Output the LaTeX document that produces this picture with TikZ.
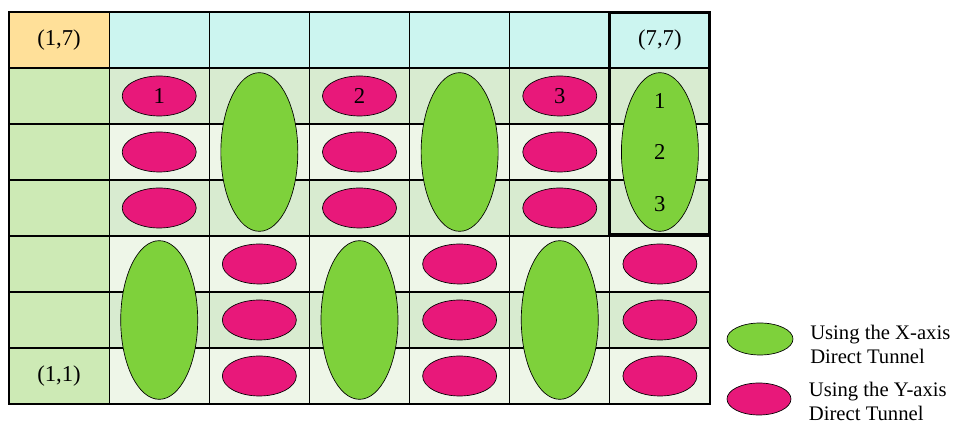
\documentclass[tikz,border=0pt]{standalone}
\usepackage{fontspec}
\setmainfont{Liberation Serif}
\usetikzlibrary{shapes.geometric,positioning}

\definecolor{topcyan}{RGB}{204,245,240}
\definecolor{cornerorange}{RGB}{255,224,153}
\definecolor{sidegreen}{RGB}{205,234,181}
\definecolor{rowdark}{RGB}{216,235,208}
\definecolor{rowlight}{RGB}{238,246,232}
\definecolor{ytunnel}{RGB}{232,24,122}
\definecolor{xtunnel}{RGB}{126,209,59}

\begin{document}
\begin{tikzpicture}[x=0.75pt, y=0.75pt,
  every node/.style={font=\fontsize{17}{20}\selectfont},
  cell/.style={draw, line width=0.9pt, minimum width=75.1pt, minimum height=42pt, inner sep=0pt, outer sep=0pt},
  ypill/.style={ellipse, draw, line width=0.5pt, fill=ytunnel, minimum width=55.5pt, minimum height=30pt, inner sep=0pt},
  xpill/.style={ellipse, draw, line width=0.5pt, fill=xtunnel, minimum width=57.75pt, minimum height=119pt, inner sep=0pt},
  legtext/.style={align=left, inner sep=0pt, font=\fontsize{15.5}{18}\selectfont}]
\useasboundingbox (0,0) rectangle (954,424);

% grid of cells, (c,r) with r=7 on top
\foreach \c in {1,...,7}{
  \foreach \r in {1,...,7}{
    \ifnum\r=7 \ifnum\c=1 \def\cellcol{cornerorange}\else\def\cellcol{topcyan}\fi
    \else\ifnum\c=1 \def\cellcol{sidegreen}\else\ifodd\r\def\cellcol{rowlight}\else\def\cellcol{rowdark}\fi\fi\fi
    \node[cell, fill=\cellcol] (c\c r\r) at ({9+(\c-0.5)*100.14}, {20+(\r-0.5)*56}) {};
  }
}
\node at (c1r7) {(1,7)};
\node at (c7r7) {(7,7)};
\node at (c1r1) {(1,1)};

% Y-axis tunnels
\foreach \c in {2,4,6}{
  \foreach \r in {6,5,4}
    \node[ypill] (y\c r\r) at (c\c r\r) {};
}
\foreach \c in {3,5,7}{
  \foreach \r in {3,2,1}
    \node[ypill] (y\c r\r) at (c\c r\r) {};
}
\node at (y2r6) {1};
\node at (y4r6) {2};
\node at (y6r6) {3};

% X-axis tunnels
\foreach \c in {3,5,7}
  \node[xpill] (x\c) at (c\c r5) {};
\foreach \c in {2,4,6}
  \node[xpill] (x\c) at (c\c r2) {};
\node[yshift=-4pt] at (c7r6) {1};
\node at (c7r5) {2};
\node[yshift=3pt] at (c7r4) {3};

% highlighted column
\draw[line width=2.2pt] ([yshift=-0.6pt]c7r7.north west) rectangle ([xshift=-0.6pt, yshift=1.5pt]c7r4.south east);

% legend
\node[ellipse, draw, line width=0.5pt, fill=xtunnel, minimum width=49.5pt, minimum height=24pt] (legx) at (760,85) {};
\node[ellipse, draw, line width=0.5pt, fill=ytunnel, minimum width=48pt, minimum height=24pt] (legy) at (759,25) {};
\node[legtext, right=12.5pt of legx, yshift=-4pt] (legxtext) {Using the X-axis\\Direct Tunnel};
\node[legtext, right=13pt of legy, yshift=-1.5pt] (legytext) {Using the Y-axis\\Direct Tunnel};
\end{tikzpicture}
\end{document}
